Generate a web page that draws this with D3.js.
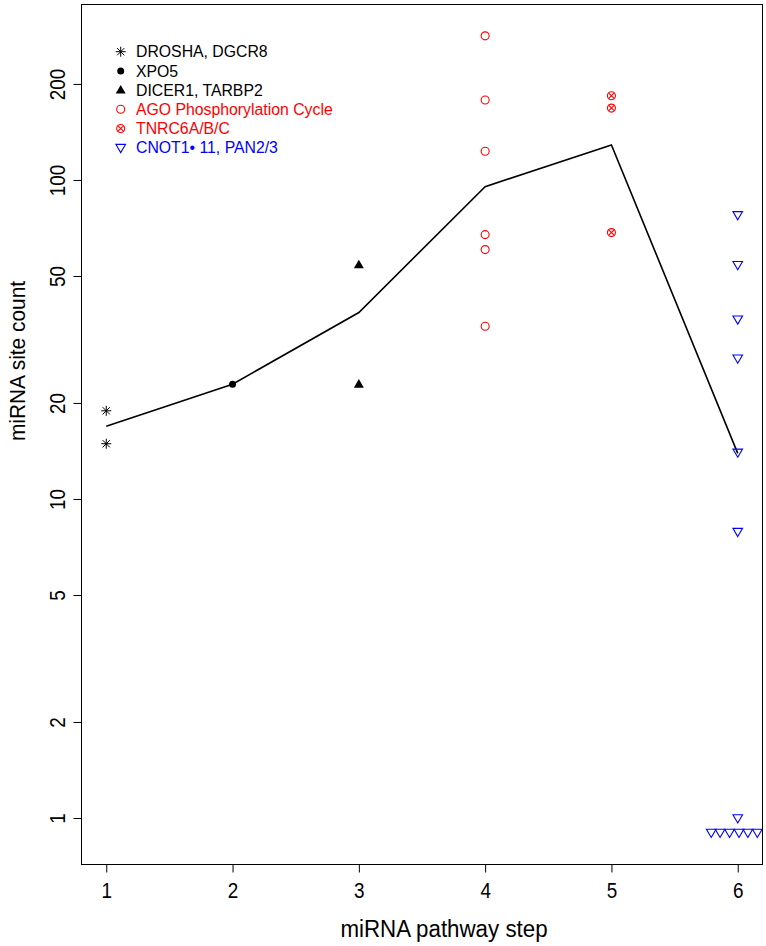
<!DOCTYPE html>
<html>
<head>
<meta charset="utf-8">
<script src="https://cdn.jsdelivr.net/npm/d3@7"></script>
<style>
  html, body { margin: 0; padding: 0; background: #fff; }
  svg { display: block; }
  text { font-family: "Liberation Sans", Arial, Helvetica, sans-serif; }
</style>
</head>
<body>
<svg id="chart" width="766" height="946"></svg>
<script>
// ---- data ----
const steps = [1, 2, 3, 4, 5, 6];
const xTickLabels = ["1", "2", "3", "4", "5", "6"];
const yTickValues = [1, 2, 5, 10, 20, 50, 100, 200];

const droshaValues = [18.9, 14.9];            // step 1
const xpo5Values = [22.9];                     // step 2
const dicerValues = [54.2, 22.9];              // step 3
const agoValues = [283, 178, 123, 67.4, 60.5, 34.8]; // step 4
const tnrcValues = [183.7, 168, 68.4];         // step 5
const cnotValues = [77.7, 54.2, 36.6, 27.6, 14, 7.9, 1]; // step 6
const cnotZeroX = [5.79, 5.86, 5.935, 6.01, 6.08, 6.155]; // zero counts, jittered
const cnotZeroValue = 0.9;

const lineValues = [16.9, 22.9, 38.4, 95.3, 128.8, 13.9];

const legendLabels = ["DROSHA, DGCR8", "XPO5", "DICER1, TARBP2",
  "AGO Phosphorylation Cycle", "TNRC6A/B/C", "CNOT1\u2022 11, PAN2/3"];
const legendColors = ["#000", "#000", "#000", "#ff0000", "#ff0000", "#0000ff"];
const legendShapes = ["asterisk", "dot", "triangle", "circle", "circlex", "downtri"];

// ---- layout ----
const svg = d3.select("#chart");
const L = 81, R = 763, T = 4, B = 864;
const x = d3.scaleLinear().domain([0.8, 6.2]).range([L, R]);
const y = d3.scaleLog().domain([0.7175, 356.1]).range([B, T]);
const FONT = "'Liberation Sans', Arial, sans-serif";

// box
svg.append("rect").attr("x", L + 0.5).attr("y", T + 0.5)
  .attr("width", R - L - 1).attr("height", B - T)
  .attr("fill", "none").attr("stroke", "#000").attr("stroke-width", 1);

// x axis
const xAxis = svg.append("g").attr("transform", `translate(0,${B + 0.5})`)
  .call(d3.axisBottom(x).tickValues(steps).tickFormat((d, i) => xTickLabels[i])
    .tickSize(8).tickSizeOuter(0));
xAxis.select(".domain").remove();
xAxis.selectAll("line").attr("stroke", "#000");
xAxis.selectAll("text").remove();
xAxis.selectAll(".tick").append("text")
  .attr("transform", "translate(0,33) scale(0.86,1)")
  .attr("text-anchor", "middle")
  .attr("font-size", 22).attr("fill", "#000").attr("font-family", FONT)
  .text((d, i) => xTickLabels[i]);

// y axis
const yAxis = svg.append("g").attr("transform", `translate(${L + 0.5},0)`)
  .call(d3.axisLeft(y).tickValues(yTickValues).tickFormat(d3.format("d"))
    .tickSize(8).tickSizeOuter(0));
yAxis.select(".domain").remove();
yAxis.selectAll("line").attr("stroke", "#000");
yAxis.selectAll("text").remove();
yAxis.selectAll(".tick").append("text")
  .attr("transform", "translate(-17,0) rotate(-90) scale(0.86,1)")
  .attr("text-anchor", "middle")
  .attr("font-size", 22).attr("fill", "#000").attr("font-family", FONT)
  .text(d => d3.format("d")(d));

// axis titles
svg.append("text").attr("transform", "translate(444,937) scale(0.95,1)")
  .attr("text-anchor", "middle").attr("font-size", 23.5).text("miRNA pathway step");
svg.append("text").attr("transform", "translate(25,361) rotate(-90) scale(0.95,1)")
  .attr("text-anchor", "middle").attr("font-size", 22).text("miRNA site count");

// ---- symbols ----
function drawSymbol(g, shape, cx, cy, color) {
  if (shape === "asterisk") {
    const s = 5, t = s * 0.72;
    const p = `M${cx - s},${cy}L${cx + s},${cy}M${cx},${cy - s}L${cx},${cy + s}` +
      `M${cx - t},${cy - t}L${cx + t},${cy + t}` +
      `M${cx - t},${cy + t}L${cx + t},${cy - t}`;
    g.append("path").attr("d", p).attr("stroke", color).attr("stroke-width", 1).attr("fill", "none");
  } else if (shape === "dot") {
    g.append("circle").attr("cx", cx).attr("cy", cy).attr("r", 3.5).attr("fill", color);
  } else if (shape === "triangle") {
    const h = 8.6, w = 10;
    g.append("path").attr("d", `M${cx},${cy - h * 0.6}L${cx + w / 2},${cy + h * 0.4}L${cx - w / 2},${cy + h * 0.4}Z`)
      .attr("fill", color);
  } else if (shape === "circle") {
    g.append("circle").attr("cx", cx).attr("cy", cy).attr("r", 4)
      .attr("fill", "none").attr("stroke", color).attr("stroke-width", 1.1);
  } else if (shape === "circlex") {
    g.append("circle").attr("cx", cx).attr("cy", cy).attr("r", 4)
      .attr("fill", "none").attr("stroke", color).attr("stroke-width", 1.1);
    const d = 2.9;
    g.append("path").attr("d", `M${cx - d},${cy - d}L${cx + d},${cy + d}M${cx - d},${cy + d}L${cx + d},${cy - d}`)
      .attr("stroke", color).attr("stroke-width", 1.1);
  } else if (shape === "downtri") {
    const h = 8.2, w = 9.6;
    g.append("path").attr("d", `M${cx},${cy + h * 0.6}L${cx + w / 2},${cy - h * 0.4}L${cx - w / 2},${cy - h * 0.4}Z`)
      .attr("fill", "none").attr("stroke", color).attr("stroke-width", 1.1);
  }
}

// line
const line = d3.line().x((d, i) => x(steps[i])).y(d => y(d));
svg.append("path").datum(lineValues).attr("d", line)
  .attr("fill", "none").attr("stroke", "#000").attr("stroke-width", 1.6);

const pts = svg.append("g");
droshaValues.forEach(v => drawSymbol(pts, "asterisk", x(1), y(v), "#000"));
xpo5Values.forEach(v => drawSymbol(pts, "dot", x(2), y(v), "#000"));
dicerValues.forEach(v => drawSymbol(pts, "triangle", x(3), y(v), "#000"));
agoValues.forEach(v => drawSymbol(pts, "circle", x(4), y(v), "#ff0000"));
tnrcValues.forEach(v => drawSymbol(pts, "circlex", x(5), y(v), "#ff0000"));
cnotValues.forEach(v => drawSymbol(pts, "downtri", x(6), y(v), "#0000ff"));
cnotZeroX.forEach(xv => drawSymbol(pts, "downtri", x(xv), y(cnotZeroValue), "#0000ff"));

// legend
const lg = svg.append("g");
legendLabels.forEach((lab, i) => {
  const cy = 51.7 + i * 19.2;
  drawSymbol(lg, legendShapes[i], 120.7, cy, legendColors[i]);
  lg.append("text").attr("x", 136).attr("y", cy).attr("dy", "0.36em")
    .attr("font-size", 15.8).attr("fill", legendColors[i]).text(lab);
});
</script>
</body>
</html>
